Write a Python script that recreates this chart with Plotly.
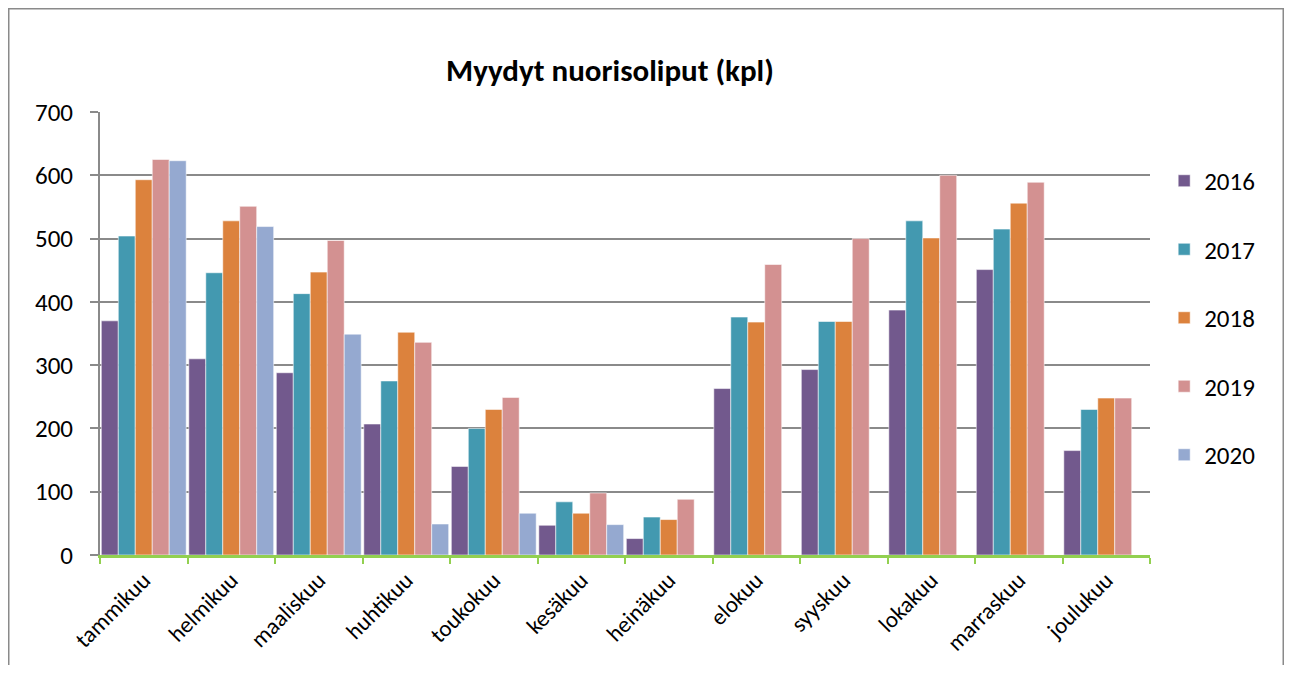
import plotly.graph_objects as go

months = ["tammikuu", "helmikuu", "maaliskuu", "huhtikuu", "toukokuu", "kesäkuu",
          "heinäkuu", "elokuu", "syyskuu", "lokakuu", "marraskuu", "joulukuu"]

y2016 = [370, 310, 288, 207, 140, 47, 26, 263, 293, 387, 451, 165]
y2017 = [504, 446, 413, 275, 200, 84, 60, 376, 369, 528, 515, 230]
y2018 = [593, 528, 447, 352, 230, 66, 56, 368, 369, 501, 556, 248]
y2019 = [625, 551, 497, 336, 249, 98, 88, 459, 500, 600, 589, 248]
y2020 = [623, 519, 349, 49, 66, 48, None, None, None, None, None, None]

series = [
    ("2016", y2016, "#72598D"),
    ("2017", y2017, "#4399B0"),
    ("2018", y2018, "#DC823D"),
    ("2019", y2019, "#D39191"),
    ("2020", y2020, "#95A9D0"),
]

yticks = [0, 100, 200, 300, 400, 500, 600, 700]

FONT = "Carlito, Lato, 'Liberation Sans', sans-serif"

# page body has an 8px margin; figure sized/offset to compensate
W, H = 1276, 657
L, T, PW, PH = 92, 104, 1050, 443
R = W - L - PW
B = H - T - PH

fig = go.Figure()
for name, vals, col in series:
    fig.add_trace(go.Bar(
        x=months, y=vals, name=name, legendgroup=name,
        marker=dict(color=col, line=dict(color="rgba(255,255,255,0.55)", width=1)),
    ))

fig.update_layout(
    width=W, height=H,
    margin=dict(l=L, r=R, t=T, b=B, autoexpand=False),
    paper_bgcolor="white", plot_bgcolor="white",
    barmode="group", bargap=0.03, bargroupgap=0,
    font=dict(family=FONT, color="black"),
    title=dict(text="<b>Myydyt nuorisoliput (kpl)</b>", x=602 / W, xref="container", xanchor="center",
               y=1 - 62 / H, yanchor="middle", font=dict(size=31, family=FONT, color="black")),
    legend=dict(x=1.0135, xanchor="left", y=0.535, yanchor="middle",
                font=dict(size=25, family=FONT), tracegroupgap=33,
                itemwidth=30, traceorder="grouped"),
    showlegend=True,
)

fig.update_yaxes(
    range=[0, 700], tickvals=yticks, ticktext=[str(v) for v in yticks],
    showgrid=True, gridcolor="#8A8A8A", gridwidth=2,
    showline=True, linecolor="#8A8A8A", linewidth=2,
    ticks="outside", ticklen=8, tickcolor="#8A8A8A", tickwidth=2,
    ticklabelstandoff=12,
    tickfont=dict(size=25, family=FONT), zeroline=False,
)
fig.update_xaxes(
    type="category", tickangle=-45, tickson="boundaries",
    showline=True, linecolor="#92D050", linewidth=2.5,
    ticks="outside", ticklen=6, tickcolor="#92D050", tickwidth=2,
    tickfont=dict(size=23, family=FONT),
)

fig.add_shape(type="rect", xref="paper", yref="paper",
              x0=(0.75 - L) / PW, x1=(W - 0.75 - L) / PW,
              y0=(T + PH - 700) / PH, y1=(T + PH - 0.75) / PH,
              line=dict(color="#8A8A8A", width=1.5), fillcolor="rgba(0,0,0,0)", layer="below")

fig.write_html("out.html")
